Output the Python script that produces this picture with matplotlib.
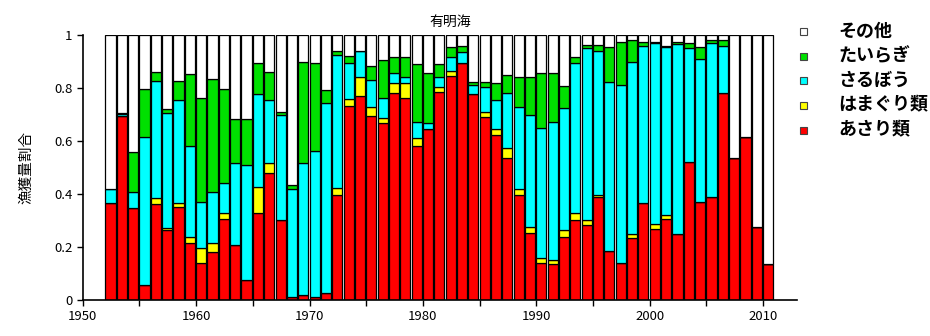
import numpy as np
import matplotlib
matplotlib.use("Agg")
import matplotlib.pyplot as plt
from matplotlib.patches import Rectangle

plt.rcParams['font.family'] = ['Noto Sans CJK JP', 'DejaVu Sans']

years = list(range(1952, 2011))

# 漁獲量割合 (読み取り値)
asari = [.365, .694, .346, .057, .362, .264, .352, .216, .141, .183,
         .305, .208, .075, .330, .478, .302, .013, .019, .013, .028,
         .396, .732, .770, .694, .667, .780, .761, .581, .644, .786,
         .845, .893, .777, .689, .623, .535, .396, .254, .141, .136,
         .239, .302, .283, .390, .186, .138, .233, .365, .267, .305,
         .249, .522, .371, .387, .780, .535, .614, .274, .136]
hamaguri = [0, 0, 0, 0, .022, .006, .015, .021, .054, .031,
            .025, 0, 0, .098, .038, 0, 0, 0, 0, 0,
            .025, .025, .073, .033, .019, .040, .057, .029, 0, .016,
            .020, 0, 0, .022, .021, .037, .022, .023, .016, .015,
            .025, .028, .019, .005, 0, 0, .016, 0, .020, .016,
            0, 0, 0, 0, 0, 0, 0, 0, 0]
saruboo = [.053, .006, .063, .557, .442, .434, .388, .344, .176, .195,
           .113, .310, .434, .349, .239, .396, .405, .499, .550, .717,
           .504, .136, .098, .103, .075, .038, .025, .063, .025, .041,
           .053, .044, .033, .091, .111, .208, .311, .421, .491, .522,
           .459, .563, .648, .546, .638, .673, .650, .593, .684, .635,
           .717, .428, .537, .584, .178, 0, 0, 0, 0]
tairagi = [0, .005, .151, .181, .033, .015, .071, .271, .390, .425,
           .352, .164, .173, .116, .107, .013, .017, .381, .330, .047,
           .016, .028, 0, .053, .145, .058, .073, .218, .189, .048,
           .038, .021, .014, .022, .063, .069, .111, .142, .210, .185,
           .085, .023, .012, .021, .132, .164, .082, .017, .004, .004,
           .009, .021, .048, .010, .023, 0, 0, 0, 0]
sonota = [.582, .295, .440, .205, .141, .281, .174, .148, .239, .166,
          .205, .318, .318, .107, .138, .289, .565, .101, .107, .208,
          .059, .079, .059, .117, .094, .084, .084, .109, .142, .109,
          .044, .042, .176, .176, .182, .151, .160, .160, .142, .142,
          .192, .084, .038, .038, .044, .025, .019, .025, .025, .040,
          .025, .029, .044, .019, .019, .465, .386, .726, .864]

series = [("あさり類", asari, "#ff0000"),
          ("はまぐり類", hamaguri, "#ffff00"),
          ("さるぼう", saruboo, "#00ffff"),
          ("たいらぎ", tairagi, "#00e000"),
          ("その他", sonota, "#ffffff")]

W, H = 930, 336
fig = plt.figure(figsize=(W / 100, H / 100), dpi=100)
ax = fig.add_axes([0.089, 0.107, 0.768, 0.789])

bottom = np.zeros(len(years))
for name, vals, col in series:
    ax.bar(years, vals, width=0.9, bottom=bottom, align="edge",
           color=col, edgecolor="black", linewidth=0.9)
    bottom += np.array(vals)

ax.set_xlim(1950, 2013)
ax.set_ylim(0, 1)
ax.set_xticks(range(1950, 2011, 10))
ax.set_xticks(range(1955, 2011, 10), minor=True)
ax.set_yticks([0, 0.2, 0.4, 0.6, 0.8, 1])
ax.set_yticklabels(["0", "0.2", "0.4", "0.6", "0.8", "1"])
ax.tick_params(axis="both", which="both", length=4, width=1, labelsize=9.5)
ax.spines["top"].set_visible(False)
ax.spines["right"].set_visible(False)
ax.spines["left"].set_linewidth(1.2)
ax.spines["bottom"].set_linewidth(1.2)
ax.set_ylabel("漁獲量割合", fontsize=10.5, labelpad=15)

fig.text(450 / W, 1 - 22 / H, "有明海", fontsize=10, ha="center", va="center")

# 凡例 (上から その他 → あさり類)
row_y = [31, 56, 80, 105, 130]
for (name, _, col), py in zip(series[::-1], row_y):
    fig.patches.append(Rectangle((800 / W, 1 - (py + 4) / H), 7 / W, 7 / H,
                                 transform=fig.transFigure, facecolor=col,
                                 edgecolor="#444444", linewidth=0.8))
    fig.text(838 / W, 1 - py / H, name, fontsize=13, fontweight="bold",
             ha="left", va="center")

fig.savefig("out.png", dpi=100)
